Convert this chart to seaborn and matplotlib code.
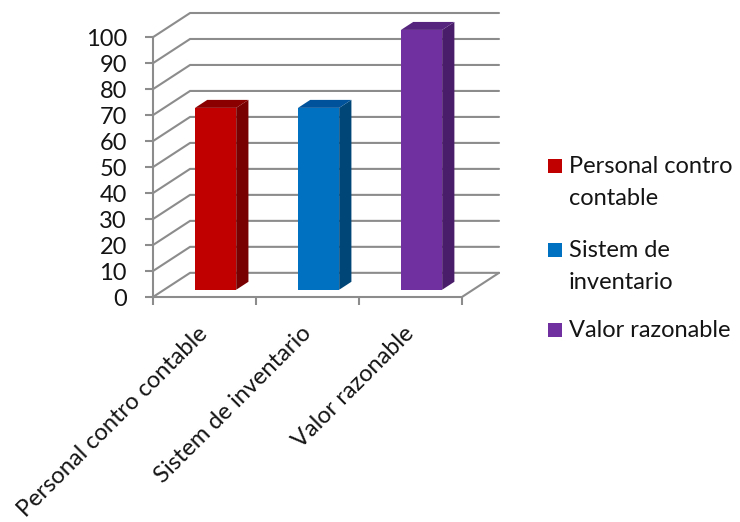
import matplotlib
matplotlib.use("Agg")
import matplotlib.pyplot as plt
import seaborn as sns
from matplotlib.patches import Polygon, Rectangle

# Data
categories = ["Personal contro contable", "Sistem de inventario", "Valor razonable"]
values = [70, 70, 100]
legend_labels = [["Personal contro", "contable"], ["Sistem de", "inventario"], ["Valor razonable"]]
y_ticks = list(range(0, 101, 10))

# Colours for the front, top and side faces of each bar
front_colors = ["#C00000", "#0070C0", "#7030A0"]
top_colors = ["#8A0000", "#00539A", "#56267F"]
side_colors = ["#780000", "#004677", "#4A1D6A"]

sns.set_theme(style="white")
plt.rcParams["font.family"] = ["Lato", "DejaVu Sans"]
TEXT = "#141414"
GRID = "#8C8C8C"
FS = 17

W, H = 740, 522
fig = plt.figure(figsize=(W / 100, H / 100), dpi=100)
ax = fig.add_axes([153 / W, 225 / H, 346 / W, 284 / H])

# Depth of the 3-D box (data units) and where the bars sit inside it
DX, DY = 0.36, 9.3
BAR_FRONT, BAR_BACK = 0.30, 0.63

sns.barplot(x=categories, y=values, hue=categories, palette=front_colors,
            width=0.4, saturation=1, legend=False, linewidth=0, ax=ax, zorder=3)
bars = list(ax.patches)

ax.set_xlim(-0.5, 2.5 + DX)
ax.set_ylim(0, 100 + DY)

# Back wall gridlines with their diagonals on the side wall
for v in y_ticks:
    ax.plot([-0.5, -0.5 + DX, 2.5 + DX], [v, v + DY, v + DY], color=GRID,
            lw=1.5, zorder=1, clip_on=False, solid_joinstyle="miter")
# Floor edges
ax.plot([-0.5, 2.5, 2.5 + DX], [0, 0, DY], color=GRID, lw=1.5, zorder=1,
        clip_on=False, solid_joinstyle="miter")

# Push each bar into the box and give it a top and side face
fx, fy = BAR_FRONT * DX, BAR_FRONT * DY
ddx, ddy = (BAR_BACK - BAR_FRONT) * DX, (BAR_BACK - BAR_FRONT) * DY
for p, tc, sc in zip(bars, top_colors, side_colors):
    x0 = p.get_x() + fx
    y0 = fy
    w, h = p.get_width(), p.get_height()
    p.set_x(x0)
    p.set_y(y0)
    side = Polygon([(x0 + w, y0), (x0 + w + ddx, y0 + ddy),
                    (x0 + w + ddx, y0 + h + ddy), (x0 + w, y0 + h)],
                   closed=True, facecolor=sc, edgecolor="none", zorder=3)
    top = Polygon([(x0, y0 + h), (x0 + w, y0 + h),
                   (x0 + w + ddx, y0 + h + ddy), (x0 + ddx, y0 + h + ddy)],
                  closed=True, facecolor=tc, edgecolor="none", zorder=3)
    ax.add_patch(side)
    ax.add_patch(top)

# Axes, ticks and labels
for s in ["top", "right", "bottom"]:
    ax.spines[s].set_visible(False)
ax.spines["left"].set_color(GRID)
ax.spines["left"].set_linewidth(1.5)
ax.spines["left"].set_bounds(0, 100)

ax.set_yticks(y_ticks)
ax.tick_params(axis="y", left=True, length=5.8, width=1.5, color=GRID,
               pad=13, labelsize=FS, labelcolor=TEXT)

ax.set_xticks([0, 1, 2])
ax.set_xticklabels(categories, rotation=45, ha="right", va="center",
                   rotation_mode="anchor", fontsize=FS, color=TEXT)
ax.set_xticks([-0.5, 0.5, 1.5, 2.5], minor=True)
ax.tick_params(axis="x", which="major", bottom=True, length=0, pad=24)
ax.tick_params(axis="x", which="minor", bottom=True, length=5.8, width=1.5,
               color=GRID)
ax.set_xlabel("")
ax.set_ylabel("")

# Legend on the right: square swatch followed by the wrapped label
baselines = [173, 257, 337]
LINE = 32
for lines, col, yb in zip(legend_labels, front_colors, baselines):
    fig.add_artist(Rectangle((548 / W, 1 - yb / H), 14 / W, 14 / H,
                             transform=fig.transFigure, facecolor=col,
                             edgecolor="none"))
    for k, line in enumerate(lines):
        fig.text(569 / W, 1 - (yb + k * LINE) / H, line, ha="left",
                 va="baseline", fontsize=FS, color=TEXT)

fig.savefig("out.png", dpi=100)
